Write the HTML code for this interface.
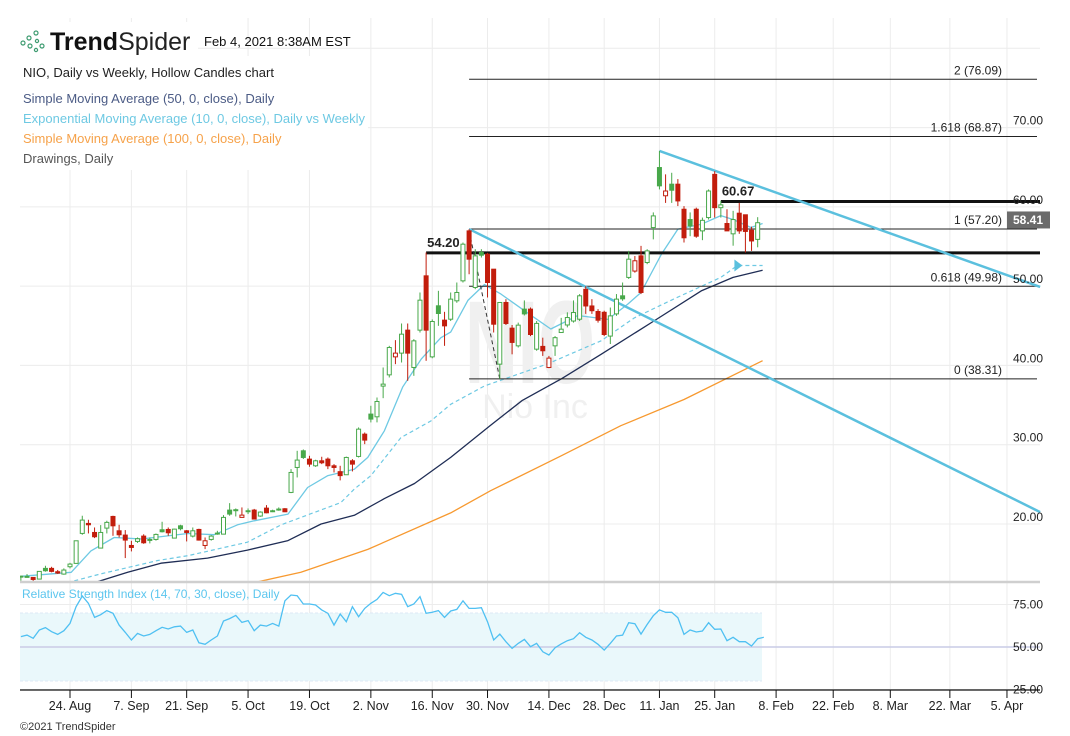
<!DOCTYPE html>
<html><head><meta charset="utf-8">
<style>
html,body{margin:0;padding:0;background:#fff;}
body{width:1070px;height:736px;overflow:hidden;position:relative;font-family:"Liberation Sans",sans-serif;}
svg{position:absolute;left:0;top:0;}
text{font-family:"Liberation Sans",sans-serif;}
</style></head>
<body>
<svg id="chart" width="1070" height="736" viewBox="0 0 1070 736" xmlns="http://www.w3.org/2000/svg">
<defs><clipPath id="mainClip"><rect x="20" y="18" width="1022" height="563"/></clipPath></defs>
<g id="grid"></g>
<g id="rsiBand"></g>
<text x="530" y="383" font-size="118" font-weight="bold" fill="#f0f0f0" transform="translate(530 0) scale(0.62 1) translate(-530 0)" text-anchor="middle">NIO</text>
<text x="535" y="418" font-size="34" fill="#f0f0f0" text-anchor="middle">Nio Inc</text>
<g id="main" clip-path="url(#mainClip)"></g>
<g id="rsi"></g>
<g id="axes"></g>
<g id="legend">
  <rect x="18" y="56" width="350" height="114" fill="#fff"/>
  <rect x="18" y="22" width="180" height="34" fill="#fff"/>
  <g fill="none" stroke="#3d9b70" stroke-width="1.2">
    <circle cx="23" cy="43" r="2"/><circle cx="29" cy="38" r="2"/><circle cx="36" cy="33" r="2"/>
    <circle cx="30" cy="46" r="2"/><circle cx="37" cy="41" r="1.6"/><circle cx="42" cy="46" r="2"/><circle cx="36" cy="50" r="1.6"/>
  </g>
  <text x="50" y="50" font-size="25" fill="#111"><tspan font-weight="bold">Trend</tspan><tspan fill="#222">Spider</tspan></text>
  <text x="204" y="46" font-size="13" fill="#111">Feb 4, 2021 8:38AM EST</text>
  <text x="23" y="77" font-size="13" fill="#222">NIO, Daily vs Weekly, Hollow Candles chart</text>
  <text x="23" y="103" font-size="13" fill="#4b5b85">Simple Moving Average (50, 0, close), Daily</text>
  <text x="23" y="123" font-size="13" fill="#6ec9e3">Exponential Moving Average (10, 0, close), Daily vs Weekly</text>
  <text x="23" y="143" font-size="13" fill="#f6a24a">Simple Moving Average (100, 0, close), Daily</text>
  <text x="23" y="163" font-size="13" fill="#555">Drawings, Daily</text>
</g>
<text x="22" y="598" font-size="12" fill="#5cc6ee">Relative Strength Index (14, 70, 30, close), Daily</text>
<text x="20" y="730" font-size="11" fill="#333">©2021 TrendSpider</text>
</svg>
<script>
const opens=[13.42,13.39,13.26,13.05,14.40,14.40,13.98,13.68,14.61,15.03,18.81,20.07,18.93,16.96,19.48,20.95,19.14,18.6,17.29,17.80,18.47,18.0,18.05,19.27,19.31,18.22,19.77,19.14,18.47,19.31,17.29,18.05,18.75,18.72,21.75,21.7,20.83,21.6,21.75,21.0,22.0,21.6,21.85,21.92,23.98,27.13,29.23,28.18,27.34,27.97,28.18,27.34,26.6,26.21,27.97,28.52,31.33,33.86,33.52,37.39,38.81,41.08,41.55,44.45,39.74,44.45,51.30,41.08,47.52,45.71,45.83,48.15,50.67,56.97,49.83,54.24,54.03,52.14,40.16,47.94,44.7,42.47,47.1,47.1,42.05,42.4,39.74,42.47,44.15,45.1,45.6,45.83,49.6,47.5,46.8,46.7,43.7,46.5,48.78,51.1,51.9,53.82,52.98,57.39,64.96,61.4,62.86,62.86,59.7,58.4,59.7,56.97,58.65,64.1,59.9,57.9,56.6,59.2,59.0,57.05,55.9];
const highs=[13.47,13.68,13.3,14.02,14.73,14.6,14.2,14.4,15.1,17.9,21.04,20.53,19.56,19.86,20.41,21.04,19.9,19.23,17.88,18.3,18.7,18.3,18.8,20.28,19.56,19.4,19.9,19.23,19.56,19.4,18.30,18.6,19.14,21.12,22.63,21.96,22.09,21.96,21.9,21.6,22.38,21.8,22.09,22.0,26.92,29.23,29.4,28.60,28.1,28.48,28.39,27.55,27.34,28.5,28.18,32.18,31.54,34.91,35.96,39.74,42.47,43.19,45.29,45.29,43.31,49.20,54.24,45.8,49.41,46.76,49.2,50.46,55.5,57.18,54.66,54.66,54.2,52.14,47.94,48.36,45.1,45.4,48.2,47.3,45.6,43.5,41.2,43.7,46.0,46.7,48.2,49.0,50.0,48.36,47.1,46.9,47.3,49.0,50.46,54.45,53.8,55.08,54.66,59.3,67.06,64.1,64.3,63.5,60.1,59.3,59.9,58.65,62.2,64.5,60.75,59.7,59.5,60.5,59.0,57.5,58.7];
const lows=[12.84,13.3,12.63,13.05,13.98,13.9,13.7,13.6,14.4,15.0,18.64,18.81,18.22,16.96,18.81,18.51,18.3,15.7,16.54,17.6,17.5,17.55,17.9,18.93,18.51,18.2,19.2,17.80,18.30,17.9,16.83,17.9,18.64,18.72,21.04,20.95,20.83,21.25,20.6,20.9,21.35,21.5,21.67,21.5,23.89,25.87,28.2,27.22,27.2,27.55,26.92,26.50,25.5,26.2,26.63,28.39,30.07,32.81,32.81,35.87,38.48,40.16,40.37,38.06,38.69,44.15,40.58,40.9,44.99,42.47,45.6,47.9,50.46,51.5,49.62,53.61,48.57,44.15,38.3,45.1,41.4,42.26,46.3,43.7,41.85,41.2,39.65,41.2,44.1,44.8,45.4,45.6,46.5,46.5,45.4,43.7,42.7,46.25,48.15,50.9,51.7,49.0,52.77,55.9,62.2,60.5,60.5,60.1,55.5,56.3,56.1,55.8,58.4,58.65,58.65,56.97,55.1,56.6,54.24,54.45,54.9];
const closes=[13.38,13.39,13.0,14.02,14.10,14.02,13.81,14.19,14.94,17.88,20.49,19.9,18.39,18.93,20.20,19.77,18.64,17.97,17.04,18.14,17.63,18.05,18.68,19.02,18.89,19.35,19.4,18.93,19.14,17.97,17.88,18.47,18.85,20.83,21.25,21.8,21.12,21.67,20.62,21.50,21.41,21.67,21.88,21.54,26.50,28.06,28.39,27.55,27.97,27.72,27.34,27.13,26.1,28.39,27.55,31.96,30.58,33.23,35.45,37.64,42.26,41.55,43.94,41.55,43.10,48.23,44.45,45.54,46.55,44.99,48.36,49.2,55.29,53.40,53.82,53.9,50.46,45.2,47.94,45.29,42.9,45.08,46.5,43.9,45.3,41.85,40.92,43.5,44.57,46.04,46.67,48.78,47.5,46.9,45.7,43.9,46.25,48.36,48.4,53.4,53.2,49.2,54.45,58.86,62.65,62.0,62.1,60.75,56.1,57.6,56.3,58.3,62.0,59.9,60.25,56.97,58.4,56.97,56.9,55.7,58.0];
const firstIdx=-8;
const sma50=[[4,12.6],[9.4,13.9],[14.8,15.05],[22.4,15.7],[28.9,16.7],[35.5,17.9],[40.9,20.0],[46.3,21.1],[51.2,23.2],[56.1,25.1],[62,28.4],[68.4,32.4],[73.7,35.6],[80,38.3],[86.5,41.4],[95.1,45.6],[102.8,49.4],[108,51.1],[112.8,52.0]];
const ema10=[[-8,13.4],[0.2,13.9],[3.4,16.6],[7.2,18.3],[11.6,18.1],[15.9,18.5],[19.2,18.8],[23.5,18.65],[27.3,19.9],[30,20.4],[35.5,21.25],[38.7,24.6],[42,26.1],[46.3,26.9],[48.5,28.4],[51.2,31.75],[54.2,37.3],[57.2,40.8],[60.4,43.5],[62,44.2],[64.8,48.2],[67.5,50.2],[70.2,49.0],[74,46.9],[78.3,44.6],[82.7,46.3],[87.6,45.8],[90.8,47.7],[93,49.2],[96.3,54.0],[99,57.2],[102.8,57.8],[106,58.9],[108,58.4],[110.9,57.4],[112.8,57.9]];
const emaWeekly=[[-0.4,12.6],[5,13.7],[14.3,15.4],[19.2,16.0],[28.9,17.7],[34.4,19.9],[44.1,22.7],[46.3,24.4],[49,26.1],[53.9,30.9],[58.8,33.0],[62,35.1],[67.5,37.4],[77.8,40.2],[86.5,43.1],[91.9,46.0],[98.4,48.4],[106,51.1],[108.7,52.6],[112.8,52.6]];
const sma100=[[30,12.6],[37.6,13.9],[48.5,16.8],[62,21.4],[68.5,24.2],[80,28.6],[89.7,32.4],[100,35.7],[112.8,40.6]];
const rsiValues=[56.1,57.0,55.1,60.0,61.4,59.0,57.4,59.6,63.9,73.7,80.0,75.7,67.4,69.0,71.4,69.8,62.9,58.6,54.1,58.0,56.5,57.4,59.6,61.6,60.6,61.9,62.3,58.6,60.0,52.5,51.6,54.1,56.5,65.3,66.7,68.6,64.5,65.5,59.6,62.9,62.3,63.9,62.3,77.2,80.6,80.2,75.3,75.3,74.7,71.8,69.8,62.9,69.4,64.9,73.7,67.8,72.7,75.7,78.0,82.1,80.2,81.6,81.0,
73.7,75.3,79.6,69.8,70.4,71.4,67.4,71.2,72.1,77.2,72.7,72.7,73.1,64.9,54.1,57.6,53.1,49.2,52.1,54.5,50.2,52.1,47.2,45.3,49.6,51.8,53.7,54.9,58.4,55.7,54.1,51.6,48.2,52.1,56.5,57.0,64.3,63.7,57.6,63.3,68.4,71.8,70.4,70.4,67.2,57.4,60.0,58.8,59.4,64.3,60.4,60.6,53.7,55.7,53.1,53.1,50.6,54.9,55.7];
const priceTicks=[80,70,60,50,40,30,20];
const rsiTicks=[75,50,25];
const dateTickIdx=[0,10,19,29,39,49,59,68,78,87,96,105,115,124.3,133.6,143.3,152.6];
const dateTickLabels=["24. Aug","7. Sep","21. Sep","5. Oct","19. Oct","2. Nov","16. Nov","30. Nov","14. Dec","28. Dec","11. Jan","25. Jan","8. Feb","22. Feb","8. Mar","22. Mar","5. Apr"];
const fibLevels=[2,1.618,1,0.618,0];
const fibPrices=[76.09,68.87,57.20,49.98,38.31];
const keyLevels=[54.20,60.67];
const lastPrice=58.41;

const NS="http://www.w3.org/2000/svg";
const X=i=>70+6.14*i;
const Y=p=>286.3-(p-49.98)*7.928;
const YR=r=>647-(r-50)*1.7;
function mk(tag,attrs,parent){const e=document.createElementNS(NS,tag);for(const k in attrs)e.setAttribute(k,attrs[k]);parent.appendChild(e);return e;}
const grid=document.getElementById('grid'),main=document.getElementById('main'),rsi=document.getElementById('rsi'),axes=document.getElementById('axes'),band=document.getElementById('rsiBand');

priceTicks.forEach(p=>{const l=mk('line',{x1:20,x2:1040,y1:Y(p),y2:Y(p),stroke:'#ececec','stroke-width':1},grid);

});
dateTickIdx.forEach(i=>{const l=mk('line',{x1:X(i),x2:X(i),y1:18,y2:690,stroke:'#ececec','stroke-width':1},grid);

});
const bx1=20,bx2=762;
const br=mk('rect',{x:bx1,y:YR(70),width:bx2-bx1,height:YR(30)-YR(70),fill:'#eaf8fb'},band);


[70,30].forEach(v=>{const l=mk('line',{x1:bx1,x2:bx2,y1:YR(v),y2:YR(v),stroke:'#dde8f5','stroke-width':1,'stroke-dasharray':'3,2'},band);

});
rsiTicks.forEach(v=>{const l=mk('line',{x1:20,x2:1040,y1:YR(v),y2:YR(v),stroke:v===50?'#c9cbe6':'#ececec','stroke-width':v===50?1.5:1},band);

});

function poly(arr,color,w,dash,name){const pts=arr.map(d=>X(d[0]).toFixed(1)+','+Y(d[1]).toFixed(1)).join(' ');
const e=mk('polyline',{points:pts,fill:'none',stroke:color,'stroke-width':w,'stroke-linejoin':'round'},main);
if(dash)e.setAttribute('stroke-dasharray',dash);

return e;}
poly(sma100,'#f7992f',1.3,null,'sma100-line');
poly(sma50,'#1f2d55',1.3,null,'sma50-line');
poly(emaWeekly,'#6ec9e3',1.2,'4,3','ema10-weekly-line');
poly(ema10,'#6ec9e3',1.3,null,'ema10-line');

const x0=X(65);
fibPrices.forEach((p,k)=>{const l=mk('line',{x1:x0,x2:1037,y1:Y(p),y2:Y(p),stroke:'#222','stroke-width':1},main);


const t=mk('text',{x:1002,y:Y(p)-5,'font-size':12,fill:'#222','text-anchor':'end'},main);
t.textContent=fibLevels[k]+' ('+p.toFixed(2)+')';

});
const kStart=[58,106];
keyLevels.forEach((p,k)=>{const l=mk('line',{x1:X(kStart[k]),x2:1040,y1:Y(p),y2:Y(p),stroke:'#111','stroke-width':3},main);


const t=mk('text',{x:X(kStart[k])+1,y:Y(p)-6,'font-size':13,'font-weight':'bold',fill:'#222'},main);
t.textContent=p.toFixed(2);

});
const dl=mk('line',{x1:X(65),y1:Y(57.0),x2:X(70),y2:Y(38.31),stroke:'#333','stroke-width':1,'stroke-dasharray':'4,3'},main);


const t1=mk('line',{x1:X(65),y1:Y(57.2),x2:X(158),y2:Y(21.5),stroke:'#5bc0de','stroke-width':2.5},main);


const t2=mk('line',{x1:X(96),y1:Y(67.06),x2:X(158),y2:Y(49.9),stroke:'#5bc0de','stroke-width':2.5},main);


const ar=mk('polygon',{points:(X(108.7)-3)+','+(Y(52.6)-6)+' '+(X(108.7)+5)+','+Y(52.6)+' '+(X(108.7)-3)+','+(Y(52.6)+6),fill:'#5bc0de'},main);



for(let k=0;k<closes.length;k++){
 const i=firstIdx+k,o=opens[k],c=closes[k],h=highs[k],l=lows[k];
 const up=k===0?true:c>=closes[k-1];
 const col=up?'#48a84a':'#c21d0c';
 const hollow=c>o;
 const x=X(i);
 const w=mk('line',{x1:x,x2:x,y1:Y(h),y2:Y(l),stroke:col,'stroke-width':1},main);
 
 
 const top=Y(Math.max(o,c)),bot=Y(Math.min(o,c));
 const b=mk('rect',{x:x-2,y:top,width:4,height:Math.max(1,bot-top),fill:hollow?'#fff':col,stroke:col,'stroke-width':1},main);
 
 
}

priceTicks.forEach(p=>{if(p>70)return;const t=mk('text',{x:1013,y:Y(p)-3,'font-size':12,fill:'#222'},axes);t.textContent=p.toFixed(2);

});
const pb=mk('rect',{x:1007,y:Y(lastPrice)-8,width:43,height:17,fill:'#6b6b6b'},axes);


const pt=mk('text',{x:1028,y:Y(lastPrice)+4.5,'font-size':12,fill:'#fff','text-anchor':'middle','font-weight':'bold'},axes);
pt.textContent=lastPrice.toFixed(2);


const sep=mk('line',{x1:20,x2:1040,y1:582,y2:582,stroke:'#cfcfcf','stroke-width':2.5},axes);


const rpts=rsiValues.map((v,k)=>X(firstIdx+k).toFixed(1)+','+YR(v).toFixed(1)).join(' ');
const rl=mk('polyline',{points:rpts,fill:'none',stroke:'#4fc0f2','stroke-width':1.3},rsi);


rsiTicks.forEach(v=>{const t=mk('text',{x:1013,y:YR(v)+4,'font-size':12,fill:'#222'},axes);t.textContent=v.toFixed(2);

});
const ax=mk('line',{x1:20,x2:1040,y1:690,y2:690,stroke:'#111','stroke-width':1.3},axes);


dateTickIdx.forEach((i,k)=>{const tk=mk('line',{x1:X(i),x2:X(i),y1:690,y2:698,stroke:'#111','stroke-width':1},axes);


const t=mk('text',{x:X(i),y:710,'font-size':12.5,fill:'#222','text-anchor':'middle'},axes);t.textContent=dateTickLabels[k];

});
</script>
</body></html>
